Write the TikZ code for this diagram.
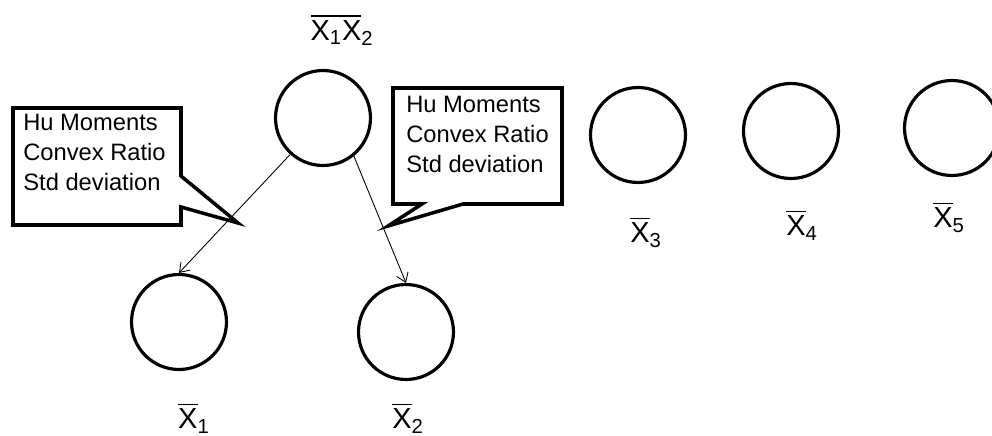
\documentclass[tikz,border=0pt]{standalone}
\usepackage{fontspec}
\setmainfont{Liberation Sans}
\usepackage{amsmath}
\usetikzlibrary{arrows.meta}
\newcommand{\xbar}[1]{$\overline{\text{X}}_{\text{#1}}$}

\begin{document}
\begin{tikzpicture}[x=0.02cm,y=-0.02cm,
  every node/.style={font=\fontsize{13.5}{17}\selectfont},
  cls/.style={circle,draw,line width=1.8pt,minimum size=1.9cm},
  lbl/.style={inner sep=0pt,font=\fontsize{16.5}{19}\selectfont},
  note/.style={align=left,anchor=north west,inner sep=0pt},
  box/.style={line width=2pt},
  edge/.style={line width=0.5pt,-{Straight Barb[length=5pt,width=7pt]}}]
\useasboundingbox (0,0) rectangle (992,436);
\clip (0,0) rectangle (992,436);
% clusters
\node[cls] (x12) at (323,118) {};
\node[cls] (x1) at (179,322) {};
\node[cls] (x2) at (406,332) {};
\node[cls] (x3) at (638,135) {};
\node[cls] (x4) at (791,131) {};
\node[cls] (x5) at (952,128) {};
% cluster labels
\node[lbl] (lx12) at (342,30) {$\overline{\text{X}_{\text{1}}\text{X}}_{\text{2}}$};
\node[lbl] (lx1) at (194,418) {\xbar{1}};
\node[lbl] (lx2) at (408,418) {\xbar{2}};
\node[lbl] (lx3) at (646,232) {\xbar{3}};
\node[lbl] (lx4) at (802,225) {\xbar{4}};
\node[lbl] (lx5) at (949,217) {\xbar{5}};
% splits
\draw[edge] (x12.228) -- (x1.north);
\draw[edge] (x12.309) -- (x2.north);
% feature callouts
\coordinate (tipL) at (238,223);
\coordinate (tipR) at (388,226);
\draw[box] (13,108) -- (181,108) -- (181,176) -- (tipL) -- (181,207) -- (181,225) -- (13,225) -- cycle;
\draw[box] (393,88) -- (562,88) -- (562,204) -- (463,204) -- (tipR) -- (422,204) -- (393,204) -- cycle;
\node[note] (noteL) at (23,114) {Hu Moments\\Convex Ratio\\Std deviation};
\node[note] (noteR) at (406,96) {Hu Moments\\Convex Ratio\\Std deviation};
\end{tikzpicture}
\end{document}
